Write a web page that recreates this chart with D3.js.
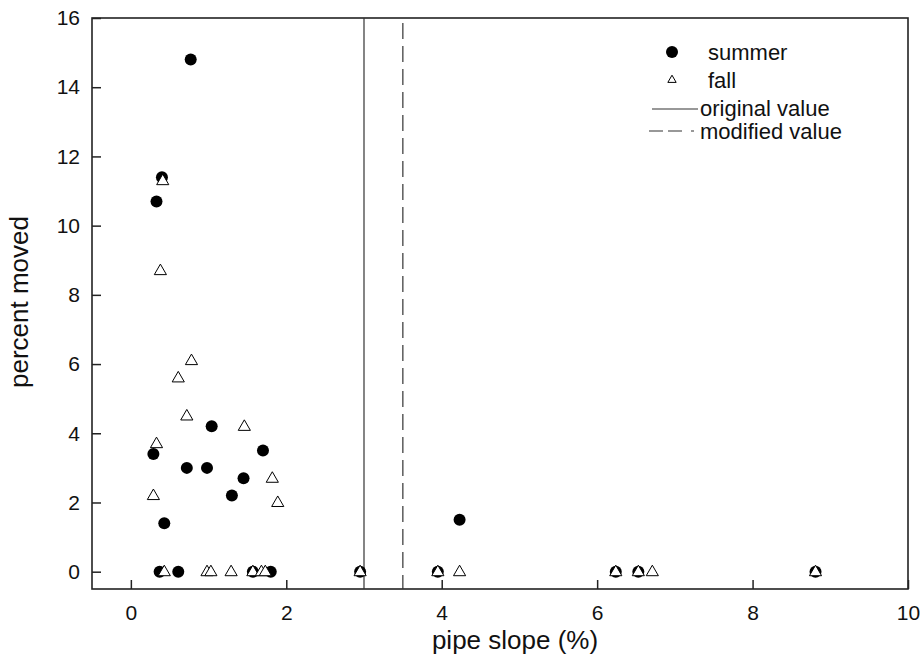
<!DOCTYPE html>
<html>
<head>
<meta charset="utf-8">
<script src="https://cdn.jsdelivr.net/npm/d3@7"></script>
<style>
  body { margin: 0; background: #fff; }
  text { font-family: "Liberation Sans", Arial, sans-serif; fill: #111; }
</style>
</head>
<body>
<div id="chart"></div>
<script>
// values
const summerX = [0.77, 0.40, 0.33, 1.04, 1.70, 0.29, 0.72, 0.98, 1.45, 1.30, 0.43, 4.23,
                 0.37, 0.61, 1.57, 1.80, 2.95, 3.95, 6.24, 6.53, 8.81]
const summerY = [14.8, 11.4, 10.7, 4.2, 3.5, 3.4, 3.0, 3.0, 2.7, 2.2, 1.4, 1.5,
                 0, 0, 0, 0, 0, 0, 0, 0, 0]
const fallX = [0.41, 0.38, 0.78, 0.61, 0.72, 1.46, 0.33, 0.29, 1.82, 1.89,
               0.43, 0.98, 1.03, 1.29, 1.57, 1.68, 1.73, 2.95, 3.95, 4.23, 6.24, 6.53, 6.71, 8.81]
const fallY = [11.3, 8.7, 6.1, 5.6, 4.5, 4.2, 3.7, 2.2, 2.7, 2.0,
               0, 0, 0, 0, 0, 0, 0, 0, 0, 0, 0, 0, 0, 0]
const xTicks = [0, 2, 4, 6, 8, 10]
const yTicks = [0, 2, 4, 6, 8, 10, 12, 14, 16]
const refLines = [3.0, 3.5]   // original value, modified value
const legendLabels = ["summer", "fall", "original value", "modified value"]

const W = 923, H = 659
const margin = {top: 18, right: 15, bottom: 70, left: 92}
const width = W - margin.left - margin.right
const height = H - margin.top - margin.bottom

const svg = d3.select("#chart")
  .append("svg")
  .attr("width", W)
  .attr("height", H)

const g = svg.append("g")
  .attr("transform", "translate(" + margin.left + "," + margin.top + ")")

const x = d3.scaleLinear().domain([-0.5, 10]).range([0, width])
const y = d3.scaleLinear().domain([-0.5, 16]).range([height, 0])

// frame
g.append("rect")
  .attr("width", width)
  .attr("height", height)
  .attr("fill", "none")
  .attr("stroke", "#222")
  .attr("stroke-width", 1.6)

// axes, ticks pointing inward
const xAxis = g.append("g")
  .attr("transform", "translate(0," + height + ")")
  .call(d3.axisBottom(x).tickValues(xTicks).tickSize(-9).tickPadding(16).tickFormat(d3.format("d")))
const yAxis = g.append("g")
  .call(d3.axisLeft(y).tickValues(yTicks).tickSize(-9).tickPadding(12).tickFormat(d3.format("d")))

;[xAxis, yAxis].forEach(a => {
  a.select(".domain").remove()
  a.selectAll("line").attr("stroke", "#222").attr("stroke-width", 1.5)
  a.selectAll("text")
    .style("font-family", "'Liberation Sans', Arial, sans-serif")
    .style("font-size", "21px")
    .attr("fill", "#111")
})

// axis titles
svg.append("text")
  .attr("x", 515)
  .attr("y", 649)
  .attr("text-anchor", "middle")
  .style("font-size", "26px")
  .text("pipe slope (%)")

svg.append("text")
  .attr("transform", "translate(28," + 302 + ") rotate(-90)")
  .attr("text-anchor", "middle")
  .style("font-size", "26px")
  .text("percent moved")

// reference lines
g.selectAll(".ref")
  .data(refLines)
  .enter()
  .append("line")
    .attr("class", "ref")
    .attr("x1", d => x(d))
    .attr("x2", d => x(d))
    .attr("y1", 0)
    .attr("y2", height)
    .attr("stroke", "#333")
    .attr("stroke-width", 1.2)
    .attr("stroke-dasharray", (d, i) => i === 1 ? "16,7" : null)
    .attr("stroke-dashoffset", -5)

// points: summer first, fall triangles drawn on top
const summer = summerX.map((v, i) => ({x: v, y: summerY[i]}))
const fall = fallX.map((v, i) => ({x: v, y: fallY[i]}))

g.append("g")
  .selectAll("circle")
  .data(summer)
  .enter()
  .append("circle")
    .attr("cx", d => x(d.x))
    .attr("cy", d => y(d.y))
    .attr("r", 6)
    .attr("fill", "#000")

const tri = d3.symbol().type(d3.symbolTriangle).size(64)
g.append("g")
  .selectAll("path")
  .data(fall)
  .enter()
  .append("path")
    .attr("d", tri)
    .attr("transform", d => "translate(" + x(d.x) + "," + (y(d.y) + 0.5) + ")")
    .attr("fill", "#fff")
    .attr("stroke", "#000")
    .attr("stroke-width", 1)

// legend
const legend = svg.append("g").attr("class", "legend")
legend.append("circle")
  .attr("cx", 672).attr("cy", 52).attr("r", 6).attr("fill", "#000")
legend.append("path")
  .attr("d", d3.symbol().type(d3.symbolTriangle).size(30))
  .attr("transform", "translate(672,80)")
  .attr("fill", "#fff").attr("stroke", "#000").attr("stroke-width", 1)
legend.append("line")
  .attr("x1", 652).attr("x2", 698).attr("y1", 109).attr("y2", 109)
  .attr("stroke", "#333").attr("stroke-width", 1.2)
legend.append("line")
  .attr("x1", 649).attr("x2", 698).attr("y1", 131).attr("y2", 131)
  .attr("stroke", "#333").attr("stroke-width", 1.2)
  .attr("stroke-dasharray", "14,5,14,9,3")

const legendPos = [[708, 60], [708, 88], [700, 116], [700, 139]]
legend.selectAll("text")
  .data(legendLabels)
  .enter()
  .append("text")
    .attr("x", (d, i) => legendPos[i][0])
    .attr("y", (d, i) => legendPos[i][1])
    .style("font-size", "22px")
    .text(d => d)
</script>
</body>
</html>
